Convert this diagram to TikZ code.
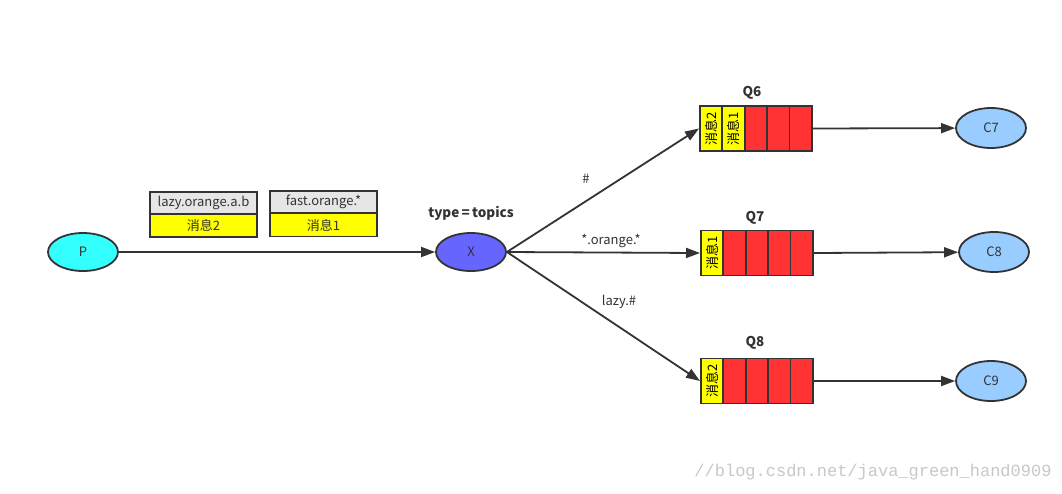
\documentclass[tikz,border=0pt]{standalone}
\usepackage{fontspec}
\setmainfont{Noto Sans CJK SC}
\newfontfamily\wmfont{Liberation Mono}
\usetikzlibrary{shapes.geometric,arrows.meta}
\definecolor{ln}{HTML}{333333}
\definecolor{pcol}{HTML}{33FFFF}
\definecolor{xcol}{HTML}{6666FF}
\definecolor{ccol}{HTML}{99CCFF}
\definecolor{ycol}{HTML}{FFFF00}
\definecolor{rcol}{HTML}{FF3333}
\definecolor{gcol}{HTML}{E6E6E6}
\definecolor{wm}{HTML}{C8C8C8}
\tikzset{
  ell/.style={ellipse, draw=ln, line width=1.8pt, minimum width=70pt, minimum height=38pt, inner sep=0pt, font=\fontsize{13}{15}\selectfont, text=ln},
  cell/.style={draw=ln, line width=1.8pt, minimum width=22.4pt, minimum height=45pt, inner sep=0pt, anchor=west, font=\fontsize{13}{15}\selectfont},
  msgtop/.style={draw=ln, line width=1.8pt, fill=gcol, minimum width=107pt, minimum height=22pt, inner sep=0pt, font=\fontsize{13}{15}\selectfont, text=ln},
  msgbot/.style={draw=ln, line width=1.8pt, fill=ycol, minimum width=107pt, minimum height=23pt, inner sep=0pt, font=\fontsize{13}{15}\selectfont, text=ln},
  arr/.style={draw=ln, line width=1.8pt, -{Triangle[length=14pt,width=10pt]}},
  lbl/.style={font=\fontsize{13}{15}\selectfont, text=ln},
  qlbl/.style={font=\bfseries\fontsize{13.5}{15}\selectfont, text=ln},
}
\begin{document}
\begin{tikzpicture}[x=1pt,y=-1pt]
\useasboundingbox[fill=white] (0,0) rectangle (1062,493);
% producer and exchange
\node[ell, fill=pcol] (P) at (83,252) {P};
\node[ell, fill=xcol] (X) at (471,252) {X};
\node[qlbl] (xl) at (471,213) {type\,=\,topics};
% messages
\node[msgtop] (m1t) at (203.5,203) {lazy.orange.a.b};
\node[msgbot] (m1b) at (203.5,225.5) {消息2};
\node[msgtop] (m2t) at (323.5,202) {fast.orange.*};
\node[msgbot] (m2b) at (323.5,225) {消息1};
% queues
\foreach \q/\x/\y/\lx/\ly in {6/699/128.5/752/93, 7/700/253/755/218, 8/700/381/755/343}{
  \node[qlbl] (Q\q l) at (\lx,\ly) {Q\q};
  \foreach \i in {1,...,5}{
    \node[cell, fill=rcol] (q\q-\i) at ({\x+22.4*(\i-1)},\y) {};
  }
}
\node[cell, fill=ycol] at (q6-1.west) {\rotatebox{90}{消息2}};
\node[cell, fill=ycol] at (q6-2.west) {\rotatebox{90}{消息1}};
\node[cell, fill=ycol] at (q7-1.west) {\rotatebox{90}{消息1}};
\node[cell, fill=ycol] at (q8-1.west) {\rotatebox{90}{消息2}};
% consumers
\node[ell, fill=ccol, minimum height=40pt] (C7) at (991,128) {C7};
\node[ell, fill=ccol, minimum height=40pt] (C8) at (994,252) {C8};
\node[ell, fill=ccol, minimum height=40pt] (C9) at (991,381) {C9};
% connectors
\draw[arr] (P) -- (X);
\draw[arr] (X.east) -- (q6-1.west);
\draw[arr] (X.east) -- (q7-1.west);
\draw[arr] (X.east) -- (q8-1.west);
\draw[arr] (q6-5.east) -- (C7);
\draw[arr] (q7-5.east) -- (C8);
\draw[arr] (q8-5.east) -- (C9);
\node[lbl] (l1) at (586,179) {\#};
\node[lbl] (l2) at (611,241) {*.orange.*};
\node[lbl] (l3) at (619,302) {lazy.\#};
% watermark
\node[font=\wmfont\fontsize{17}{19}\selectfont, text=wm] (wmk) at (873,472) {//blog.csdn.net/java\_green\_hand0909};
\end{tikzpicture}
\end{document}
